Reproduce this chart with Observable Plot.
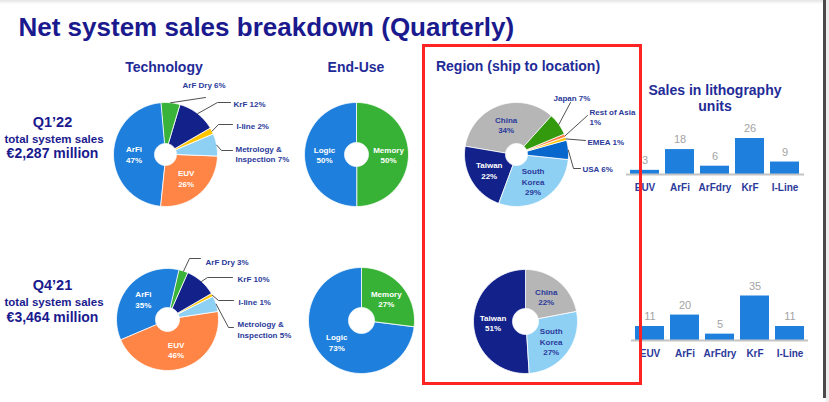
<!DOCTYPE html>
<html><head><meta charset="utf-8">
<script src="https://cdn.jsdelivr.net/npm/d3@7"></script>
<script src="https://cdn.jsdelivr.net/npm/@observablehq/plot@0.6"></script>
<style>
body{margin:0;background:#fff;font-family:"Liberation Sans",Arial,sans-serif}
#root{position:relative;width:829px;height:402px;overflow:hidden;background:#fff}
#root > *{position:absolute}
</style></head><body><div id="root"></div>
<script>
// ---------- data ----------
const title = "Net system sales breakdown (Quarterly)";
const quarters = ["Q1’22", "Q4’21"];
const salesLine = "total system sales";
const totalSales = ["€2,287 million", "€3,464 million"];
const panelTitles = ["Technology", "End-Use", "Region (ship to location)", "Sales in lithography\nunits"];

const techLabels = ["ArF Dry", "KrF", "I-line", "Metrology & Inspection", "EUV", "ArFi"];
const techQ122 = [6, 12, 2, 7, 26, 47];
const techQ421 = [3, 10, 1, 5, 46, 35];
const endUseLabels = ["Memory", "Logic"];
const endUseQ122 = [50, 50];
const endUseQ421 = [27, 73];
const regionQ122Labels = ["Japan", "Rest of Asia", "EMEA", "USA", "South Korea", "Taiwan", "China"];
const regionQ122 = [7, 1, 1, 6, 29, 22, 34];
const regionQ421Labels = ["China", "South Korea", "Taiwan"];
const regionQ421 = [22, 27, 51];
const unitCats = ["EUV", "ArFi", "ArFdry", "KrF", "I-Line"];
const unitsQ122 = [3, 18, 6, 26, 9];
const unitsQ421 = [11, 20, 5, 35, 11];

// ---------- styles / layout ----------
const FONT = '"Liberation Sans", Arial, Helvetica, sans-serif';
const C = {title:"#1a1a8e", head:"#1f2b97", label:"#2b3a9a", leader:"#3c3c3c", value:"#a3a3a3", bar:"#1e7fdc"};
const sliceColors = {"ArF Dry":"#39b339", "KrF":"#12228a", "I-line":"#ffc600", "Metrology & Inspection":"#8ecff4",
  "EUV":"#ff8546", "ArFi":"#1e7fdc", "Memory":"#38b236", "Logic":"#1e7fdc", "China":"#b6b6b6", "Japan":"#329a0c",
  "Rest of Asia":"#ff7c3e", "EMEA":"#ffc400", "USA":"#0767cc", "South Korea":"#8ecff4", "Taiwan":"#12228a"};
const darkInside = new Set(["China", "South Korea"]);

const pies = [
  {id:"tq1", labels:techLabels, values:techQ122, cx:165, cy:154, r:52, r0:11, start:-5,
   callouts:{"ArF Dry":{path:[[205,97]], at:[182,84]},
             "KrF":{path:[[217,102],[230,102]], at:[233,103]},
             "I-line":{path:[[218,124],[232,124]], at:[236,125]},
             "Metrology & Inspection":{path:[[221,150],[232,150]], at:[235,153], br:"name"}}},
  {id:"tq4", labels:techLabels, values:techQ421, cx:167, cy:319, r:51, r0:12, start:13,
   callouts:{"ArF Dry":{path:[[189,258],[200,258]], at:[205,261]},
             "KrF":{path:[[207,277],[232,277]], at:[237,278]},
             "I-line":{path:[[218,300],[233,300]], at:[238,301]},
             "Metrology & Inspection":{path:[[228,327],[233,327]], at:[237,328.5], br:"name"}}},
  {id:"eq1", labels:endUseLabels, values:endUseQ122, cx:356, cy:154, r:52, r0:12, start:0},
  {id:"eq4", labels:endUseLabels, values:endUseQ421, cx:361, cy:320, r:53, r0:13, start:0},
  {id:"rq1", labels:regionQ122Labels, values:regionQ122, cx:516, cy:154, r:52, r0:11, start:42,
   callouts:{"Japan":{path:[[570,102]], at:[553,97]},
             "Rest of Asia":{path:[[587,115]], at:[589,116], br:"pct"},
             "EMEA":{path:[[585,140]], at:[587,141]},
             "USA":{path:[[573,168],[580,168]], at:[582,168]}}},
  {id:"rq4", labels:regionQ421Labels, values:regionQ421, cx:525, cy:321, r:52, r0:13, start:0}
];

// ---------- geometry from data ----------
const deg = Math.PI / 180;
const slicePts = [], inner = [], callouts = [], leaders = [];
pies.forEach(p => {
  const arcs = d3.pie().sort(null).startAngle(p.start * deg).endAngle(p.start * deg + 2 * Math.PI)(p.values);
  const arcGen = d3.arc().innerRadius(p.r0).outerRadius(p.r);
  arcs.forEach((a, i) => {
    const name = p.labels[i], key = p.id + i, col = sliceColors[name];
    const span = a.endAngle - a.startAngle;
    const n = Math.max(2, Math.ceil(span / (2 * deg)));
    for (let k = 0; k <= n; k++) { const t = a.startAngle + span * k / n; slicePts.push({key, fill:col, x:p.cx + p.r * Math.sin(t), y:p.cy - p.r * Math.cos(t)}); }
    for (let k = n; k >= 0; k--) { const t = a.startAngle + span * k / n; slicePts.push({key, fill:col, x:p.cx + p.r0 * Math.sin(t), y:p.cy - p.r0 * Math.cos(t)}); }
    const pct = p.values[i] + "%";
    const co = p.callouts && p.callouts[name];
    if (co) {
      const m = (a.startAngle + a.endAngle) / 2;
      const pts = [[p.cx + p.r * Math.sin(m), p.cy - p.r * Math.cos(m)], ...co.path];
      pts.forEach(([x, y]) => leaders.push({key, x, y}));
      const txt = co.br === "name" ? name.replace("& ", "&\n") + " " + pct
                : co.br === "pct" ? name + "\n" + pct : name + " " + pct;
      callouts.push({x:co.at[0], y:co.at[1], text:txt});
    } else {
      const [dx, dy] = arcGen.centroid(a);
      inner.push({x:p.cx + dx, y:p.cy + dy, text:name.replace(" ", "\n") + "\n" + pct,
                  fill:darkInside.has(name) ? C.label : "white"});
    }
  });
});

const heads = [
  {x:163.5, y:66, text:panelTitles[0]},
  {x:355.5, y:66, text:panelTitles[1]},
  {x:517.5, y:65.5, text:panelTitles[2]},
  {x:714.5, y:97.4, text:panelTitles[3]}
];
const rowY = [{q:122, s:139, t:153}, {q:285, s:302, t:317}];
const rowQ = quarters.map((q, i) => ({x:52, y:rowY[i].q, text:q}));
const rowS = quarters.map((q, i) => ({x:53.5, y:rowY[i].s, text:salesLine}));
const rowT = totalSales.map((t, i) => ({x:52, y:rowY[i].t, text:t}));

const root = document.getElementById("root");

// ---------- bar charts ----------
function barChart(values, lay) {
  const data = unitCats.map((c, i) => ({cat:c, v:values[i]}));
  const svg = Plot.plot({
    width:215, height:100, marginTop:10, marginBottom:26, marginLeft:lay.ml, marginRight:lay.mr,
    x:{type:"band", domain:unitCats, range:lay.xr, padding:0.18},
    y:{domain:[0, lay.ymax], range:[74, 74 - lay.hmax], axis:null},
    style:{fontFamily:FONT, background:"transparent", overflow:"visible"},
    marks:[
      Plot.barY(data, {x:"cat", y:"v", fill:C.bar}),
      Plot.ruleY([0], {stroke:"#c4c4c4", strokeWidth:2}),
      Plot.text(data, {x:"cat", y:"v", text:d => String(d.v), dy:-10, fill:C.value, fontSize:11}),
      Plot.axisX({tickSize:0, tickPadding:9, fontSize:10, fontWeight:"bold", color:C.label, label:null})
    ]
  });
  svg.style.left = lay.left + "px";
  svg.style.top = lay.top + "px";
  return svg;
}
root.appendChild(barChart(unitsQ122, {left:600, top:100, ml:26, mr:11, xr:[22, 206], ymax:26, hmax:36}));
root.appendChild(barChart(unitsQ421, {left:600, top:266, ml:31, mr:7, xr:[27, 211], ymax:35, hmax:44.5}));

// ---------- main canvas: pies and text ----------
const main = Plot.plot({
  width:829, height:402, margin:0,
  x:{domain:[0, 829], range:[0, 829], axis:null},
  y:{domain:[0, 402], range:[0, 402], axis:null},
  color:{type:"identity"},
  style:{fontFamily:FONT, background:"transparent"},
  marks:[
    Plot.line(slicePts, {x:"x", y:"y", z:"key", fill:"fill", stroke:"white", strokeWidth:0.8, curve:"linear-closed"}),
    Plot.line(leaders, {x:"x", y:"y", z:"key", stroke:C.leader, strokeWidth:0.9}),
    Plot.text(inner, {x:"x", y:"y", text:"text", fill:"fill", fontSize:8, fontWeight:"bold", lineHeight:1.3}),
    Plot.text(callouts, {x:"x", y:"y", text:"text", fill:C.label, fontSize:8, fontWeight:"bold", lineHeight:1.3, textAnchor:"start"}),
    Plot.text([title], {x:18, y:27, text:d => d, fill:C.title, fontSize:26, fontWeight:"bold", textAnchor:"start"}),
    Plot.text(heads, {x:"x", y:"y", text:"text", fill:C.head, fontSize:14, fontWeight:"bold", lineHeight:1.13}),
    Plot.text(rowQ, {x:"x", y:"y", text:"text", fill:C.title, fontSize:14.5, fontWeight:"bold"}),
    Plot.text(rowS, {x:"x", y:"y", text:"text", fill:C.title, fontSize:11.5, fontWeight:"bold"}),
    Plot.text(rowT, {x:"x", y:"y", text:"text", fill:C.title, fontSize:14, fontWeight:"bold"})
  ]
});
main.style.left = "0px"; main.style.top = "0px";
root.appendChild(main);

// ---------- decorative frame elements ----------
const box = document.createElement("div");
box.style.cssText = "left:422px;top:44px;width:214px;height:335px;border:3px solid #ff2424;";
root.appendChild(box);
const edge = document.createElement("div");
edge.style.cssText = "left:823px;top:0;width:3px;height:398px;background:#4a4a4a;";
root.appendChild(edge);
const edge2 = document.createElement("div");
edge2.style.cssText = "left:826px;top:0;width:3px;height:402px;background:#ececec;";
root.appendChild(edge2);
const topband = document.createElement("div");
topband.style.cssText = "left:0;top:0;width:823px;height:4px;background:linear-gradient(#e4e4e4,#ffffff);";
root.appendChild(topband);
</script></body></html>
